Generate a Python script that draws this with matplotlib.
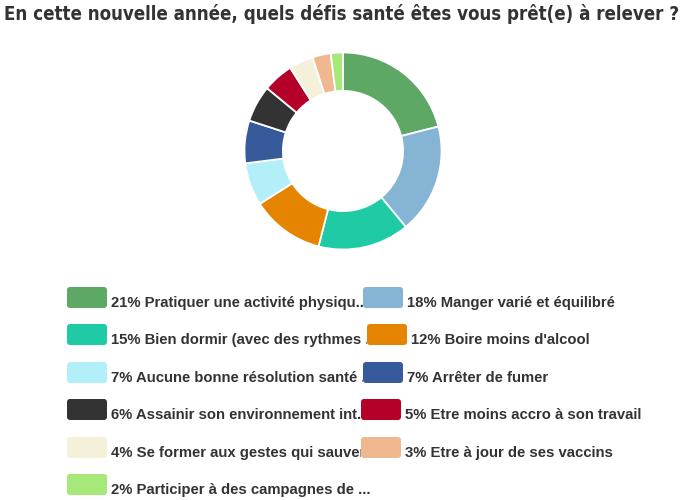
import matplotlib.pyplot as plt
from matplotlib.patches import FancyBboxPatch
from matplotlib.transforms import Bbox, TransformedBbox

title = "En cette nouvelle année, quels défis santé êtes vous prêt(e) à relever ?"
labels = ["21% Pratiquer une activité physiqu...", "18% Manger varié et équilibré",
          "15% Bien dormir (avec des rythmes ...", "12% Boire moins d'alcool",
          "7% Aucune bonne résolution santé ...", "7% Arrêter de fumer",
          "6% Assainir son environnement int...", "5% Etre moins accro à son travail",
          "4% Se former aux gestes qui sauvent", "3% Etre à jour de ses vaccins",
          "2% Participer à des campagnes de ..."]
values = [21, 18, 15, 12, 7, 7, 6, 5, 4, 3, 2]
colors = ["#5da864", "#86b4d4", "#1fcba5", "#e58400", "#b3eff8", "#375a9a",
          "#333333", "#b5002a", "#f4f0da", "#efb88f", "#a7e87a"]

W, H = 689, 500
fig = plt.figure(figsize=(W / 100, H / 100), dpi=100)
fig.patch.set_facecolor("white")

# donut
cx, cy, r = 343, 151, 100.5
ax = fig.add_axes([(cx - r) / W, (H - cy - r) / H, 2 * r / W, 2 * r / H])
ax.pie(values, colors=colors, startangle=90, counterclock=False, radius=1,
       wedgeprops=dict(width=0.39, edgecolor="white", linewidth=1.3))
ax.set_xlim(-1.02, 1.02)
ax.set_ylim(-1.02, 1.02)
ax.set_aspect("equal")

# overlay in pixel coords
ov = fig.add_axes([0, 0, 1, 1])
ov.set_xlim(0, W)
ov.set_ylim(H, 0)
ov.axis("off")

tt = ov.text(4, 20, title, fontsize=15, fontfamily="DejaVu Sans", fontstretch="condensed",
             fontweight="bold", color="#333333", va="baseline", ha="left")
# shrink the title to the reference width if the font is wider
fig.canvas.draw()
bb = tt.get_window_extent()
if bb.width > 680:
    tt.set_fontsize(15 * 680 / bb.width)

row_tops = [287, 324, 362, 399, 437, 474]
right_x = [363, 367, 363, 361, 361]
for i, (lab, col) in enumerate(zip(labels, colors)):
    row = i // 2
    top = row_tops[row]
    if i % 2 == 0:
        bx = 67
    else:
        bx = right_x[row]
    box = FancyBboxPatch((bx + 2, top + 2), 36, 17,
                         boxstyle="round,pad=2,rounding_size=3",
                         facecolor=col, edgecolor="none", zorder=3)
    ov.add_patch(box)
    t = ov.text(bx + 44, top + 20, lab, fontsize=10.7, fontfamily="Liberation Sans",
                fontweight="bold", color="#333333", va="baseline", ha="left", zorder=2)
    if i % 2 == 0 and row < 5:
        clip = TransformedBbox(Bbox([[0, 0], [right_x[row], H]]), ov.transData)
        t.set_clip_box(clip)
        t.set_clip_on(True)

fig.savefig("out.png", dpi=100)
